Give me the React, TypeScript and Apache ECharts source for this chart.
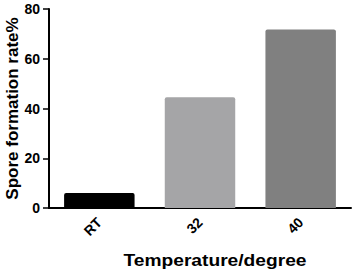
import React, { useEffect, useRef } from "react";
import * as echarts from "echarts";

const categories = ["RT", "32", "40"];
const values = [6, 44.5, 71.8];
const barColors = ["#000000", "#a5a5a7", "#808080"];
const yTicks = { min: 0, max: 80, interval: 20 };
const xTitle = "Temperature/degree";
const yTitle = "Spore formation rate%";

export default function App() {
  const ref = useRef<HTMLDivElement>(null);
  useEffect(() => {
    if (!ref.current) return;
    const chart = echarts.init(ref.current, null, { renderer: "svg" });
    const font = "Liberation Sans, Arial, sans-serif";
    chart.setOption({
      animation: false,
      backgroundColor: "#ffffff",
      grid: { left: 49, right: 1, top: 9, bottom: 62, containLabel: false, outerBoundsMode: "none" },
      graphic: [
        {
          type: "text",
          x: 215,
          y: 261,
          scaleX: 1.2,
          style: {
            text: xTitle,
            fontFamily: font,
            fontWeight: "bold",
            fontSize: 16,
            fill: "#000",
            align: "center",
            verticalAlign: "middle",
          },
        },
      ],
      xAxis: {
        type: "category",
        data: categories,
        axisLine: { lineStyle: { color: "#000", width: 2 } },
        axisTick: { alignWithLabel: true, length: 6, lineStyle: { color: "#000", width: 1.5 } },
        axisLabel: {
          rotate: 45,
          margin: 12,
          fontFamily: font,
          fontWeight: "bold",
          fontSize: 14,
          color: "#000",
        },
      },
      yAxis: {
        type: "value",
        min: yTicks.min,
        max: yTicks.max,
        interval: yTicks.interval,
        name: yTitle,
        nameLocation: "middle",
        nameGap: 28,
        nameMoveOverlap: false,
        nameTextStyle: { fontFamily: font, fontWeight: "bold", fontSize: 17, color: "#000" },
        axisLine: { show: true, lineStyle: { color: "#000", width: 2 } },
        axisTick: { show: true, length: 6, lineStyle: { color: "#000", width: 1.5 } },
        axisLabel: { fontFamily: font, fontWeight: "bold", fontSize: 14, color: "#000", margin: 9 },
        splitLine: { show: false },
      },
      series: [
        {
          type: "bar",
          barWidth: "70%",
          data: values.map((v, i) => ({ value: v, itemStyle: { color: barColors[i] } })),
          itemStyle: { borderRadius: [2, 2, 0, 0] },
        },
      ],
    });
    return () => chart.dispose();
  }, []);
  return <div ref={ref} style={{ width: 352, height: 270, position: "absolute", left: 0, top: 0 }} />;
}
